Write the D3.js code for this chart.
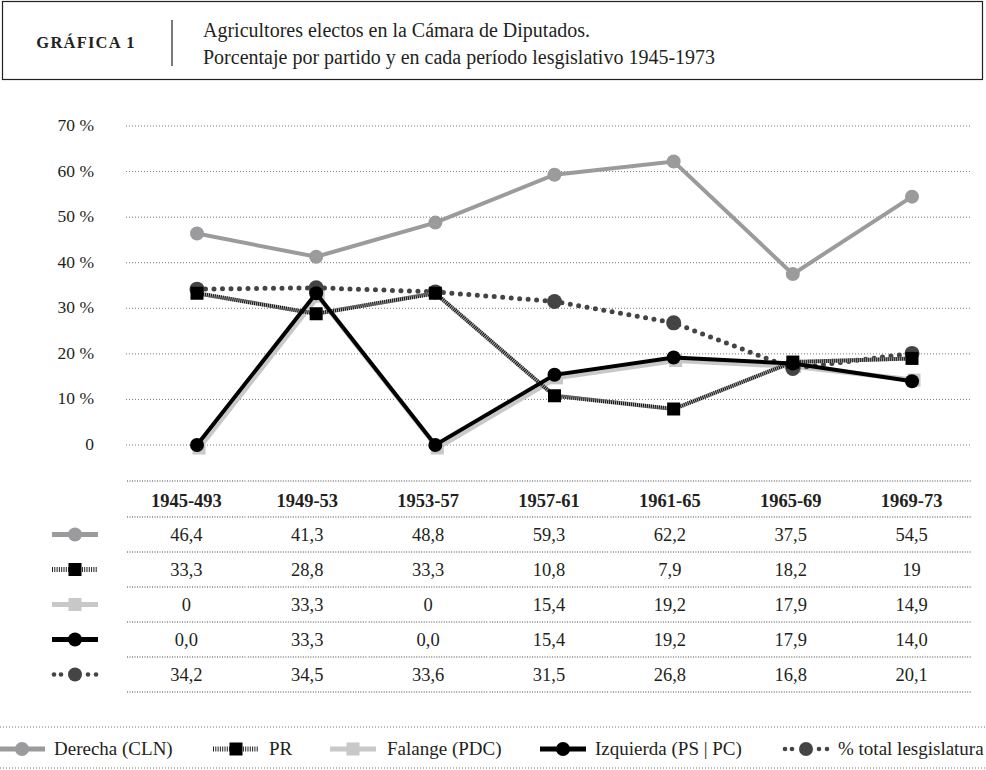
<!DOCTYPE html>
<html>
<head>
<meta charset="utf-8">
<script src="https://cdn.jsdelivr.net/npm/d3@7"></script>
<style>
  body { margin: 0; background: #fff; }
  svg text { font-family: "Liberation Serif", "DejaVu Serif", serif; fill: #231f20; }
</style>
</head>
<body>
<svg id="chart" width="986" height="770"></svg>
<script>
// periods and series (percent of farmers elected, per party)
var periods = ["1945-493", "1949-53", "1953-57", "1957-61", "1961-65", "1965-69", "1969-73"];
var derecha   = [46.4, 41.3, 48.8, 59.3, 62.2, 37.5, 54.5];
var pr        = [33.3, 28.8, 33.3, 10.8, 7.9, 18.2, 19];
var falange   = [0, 33.3, 0, 15.4, 19.2, 17.9, 14.9];
var izquierda = [0.0, 33.3, 0.0, 15.4, 19.2, 17.9, 14.0];
var total     = [34.2, 34.5, 33.6, 31.5, 26.8, 16.8, 20.1];
// table labels as printed
var derechaTxt   = ["46,4", "41,3", "48,8", "59,3", "62,2", "37,5", "54,5"];
var prTxt        = ["33,3", "28,8", "33,3", "10,8", "7,9", "18,2", "19"];
var falangeTxt   = ["0", "33,3", "0", "15,4", "19,2", "17,9", "14,9"];
var izquierdaTxt = ["0,0", "33,3", "0,0", "15,4", "19,2", "17,9", "14,0"];
var totalTxt     = ["34,2", "34,5", "33,6", "31,5", "26,8", "16,8", "20,1"];
var yTicks = [0, 10, 20, 30, 40, 50, 60, 70];
var legendNames = ["Derecha (CLN)", "PR", "Falange (PDC)", "Izquierda (PS | PC)", "% total lesgislatura"];

var svg = d3.select("#chart");

// ---- header ----
svg.append("rect").attr("x", 2.5).attr("y", 1.5).attr("width", 980).attr("height", 78)
  .attr("fill", "none").attr("stroke", "#231f20").attr("stroke-width", 1.2);
svg.append("text").attr("x", 86).attr("y", 48).attr("text-anchor", "middle")
  .style("font-weight", "bold").style("font-size", "16.5px").style("letter-spacing", "1.2px")
  .text("GRÁFICA 1");
svg.append("line").attr("x1", 172).attr("x2", 172).attr("y1", 20).attr("y2", 66)
  .attr("stroke", "#231f20").attr("stroke-width", 1.2);
svg.append("text").attr("x", 203).attr("y", 37).style("font-size", "20px")
  .text("Agricultores electos en la Cámara de Diputados.");
svg.append("text").attr("x", 203).attr("y", 64).style("font-size", "20px")
  .text("Porcentaje por partido y en cada período lesgislativo 1945-1973");

// ---- scales ----
var x = d3.scalePoint().domain(periods).range([197, 912]);
var y = d3.scaleLinear().domain([0, 70]).range([445, 126]);
var col = d3.scaleBand().domain(periods).range([126, 972]);

// grid
var grid = svg.append("g");
grid.selectAll("line").data(yTicks).enter().append("line")
  .attr("x1", 126).attr("x2", 972)
  .attr("y1", function(d){ return y(d); }).attr("y2", function(d){ return y(d); })
  .attr("stroke", "#777").attr("stroke-width", 1).attr("stroke-dasharray", "1,2");
grid.selectAll("text").data(yTicks).enter().append("text")
  .attr("x", 94).attr("y", function(d){ return y(d) + 5; })
  .attr("text-anchor", "end").style("font-size", "17.5px")
  .text(function(d){ return d === 0 ? "0" : d + " %"; });

var line = d3.line().x(function(d, i){ return x(periods[i]); }).y(function(d){ return y(d); });

function circles(g, vals, r, color) {
  g.selectAll("circle").data(vals).enter().append("circle")
    .attr("cx", function(d, i){ return x(periods[i]); })
    .attr("cy", function(d){ return y(d); })
    .attr("r", r).attr("fill", color);
}
function squares(g, vals, s, color) {
  g.selectAll("rect").data(vals).enter().append("rect")
    .attr("x", function(d, i){ return x(periods[i]) - s / 2; })
    .attr("y", function(d){ return y(d) - s / 2; })
    .attr("width", s).attr("height", s).attr("fill", color);
}

var plot = svg.append("g");

// Derecha
var gD = plot.append("g");
gD.append("path").attr("d", line(derecha)).attr("fill", "none").attr("stroke", "#9b9b9d").attr("stroke-width", 4);
circles(gD, derecha, 7, "#9b9b9d");

// Falange (drawn slightly offset under Izquierda)
var gF = plot.append("g").attr("transform", "translate(2,3)");
gF.append("path").attr("d", line(falange)).attr("fill", "none").attr("stroke", "#c8c8c8").attr("stroke-width", 5);
squares(gF, falange, 13, "#c8c8c8");

// total
var gT = plot.append("g");
gT.append("path").attr("d", line(total)).attr("fill", "none").attr("stroke", "#444")
  .attr("stroke-width", 5).attr("stroke-linecap", "round").attr("stroke-dasharray", "0,8.5");
circles(gT, total, 7.5, "#444");

// PR (hatched)
var gP = plot.append("g");
gP.append("path").attr("d", line(pr)).attr("fill", "none").attr("stroke", "#aaa").attr("stroke-width", 4);
gP.append("path").attr("d", line(pr)).attr("fill", "none").attr("stroke", "#111")
  .attr("stroke-width", 4).attr("stroke-dasharray", "1,1");
squares(gP, pr, 13, "#000");

// Izquierda
var gI = plot.append("g");
gI.append("path").attr("d", line(izquierda)).attr("fill", "none").attr("stroke", "#000").attr("stroke-width", 4);
circles(gI, izquierda, 7, "#000");

// ---- table ----
var rowTop = 481, headH = 36, rowH = 35;
var rows = [derechaTxt, prTxt, falangeTxt, izquierdaTxt, totalTxt];
var table = svg.append("g");
var lineYs = [rowTop, rowTop + headH];
rows.forEach(function(r, i){ lineYs.push(rowTop + headH + (i + 1) * rowH); });
lineYs.forEach(function(ly){
  table.append("g").selectAll("line").data(periods).enter().append("line")
    .attr("x1", function(d){ return col(d) + 1; }).attr("x2", function(d){ return col(d) + col.bandwidth() - 1; })
    .attr("y1", ly).attr("y2", ly)
    .attr("stroke", "#444").attr("stroke-width", 1).attr("stroke-dasharray", "1,1.5");
});
table.append("g").selectAll("text").data(periods).enter().append("text")
  .attr("x", function(d){ return col(d) + col.bandwidth() / 2; })
  .attr("y", rowTop + 26).attr("text-anchor", "middle")
  .style("font-size", "18.5px").style("font-weight", "bold")
  .text(function(d){ return d; });
rows.forEach(function(r, ri){
  table.append("g").selectAll("text").data(r).enter().append("text")
    .attr("x", function(d, i){ return col(periods[i]) + col.bandwidth() / 2; })
    .attr("y", rowTop + headH + ri * rowH + 24).attr("text-anchor", "middle")
    .style("font-size", "18.5px")
    .text(function(d){ return d; });
});

// legend icons
function icon(g, k, cx, cy) {
  var w = 23;
  if (k === 0) {
    g.append("line").attr("x1", cx - w).attr("x2", cx + w).attr("y1", cy).attr("y2", cy).attr("stroke", "#9b9b9d").attr("stroke-width", 5);
    g.append("circle").attr("cx", cx).attr("cy", cy).attr("r", 7).attr("fill", "#9b9b9d");
  } else if (k === 1) {
    g.append("line").attr("x1", cx - w).attr("x2", cx + w).attr("y1", cy).attr("y2", cy).attr("stroke", "#222").attr("stroke-width", 5).attr("stroke-dasharray", "1,1.3");
    g.append("rect").attr("x", cx - 6.5).attr("y", cy - 6.5).attr("width", 13).attr("height", 13).attr("fill", "#000");
  } else if (k === 2) {
    g.append("line").attr("x1", cx - w).attr("x2", cx + w).attr("y1", cy).attr("y2", cy).attr("stroke", "#c8c8c8").attr("stroke-width", 5);
    g.append("rect").attr("x", cx - 6.5).attr("y", cy - 6.5).attr("width", 13).attr("height", 13).attr("fill", "#c8c8c8");
  } else if (k === 3) {
    g.append("line").attr("x1", cx - w).attr("x2", cx + w).attr("y1", cy).attr("y2", cy).attr("stroke", "#000").attr("stroke-width", 5);
    g.append("circle").attr("cx", cx).attr("cy", cy).attr("r", 7).attr("fill", "#000");
  } else {
    [-21, -14, 13, 21].forEach(function(o){
      g.append("circle").attr("cx", cx + o).attr("cy", cy).attr("r", 2.3).attr("fill", "#444");
    });
    g.append("circle").attr("cx", cx).attr("cy", cy).attr("r", 7).attr("fill", "#444");
  }
}
rows.forEach(function(r, ri){
  icon(table, ri, 75, rowTop + headH + ri * rowH + rowH / 2);
});

// ---- bottom legend ----
var leg = svg.append("g");
[727, 768].forEach(function(ly){
  leg.append("line").attr("x1", 0).attr("x2", 986).attr("y1", ly).attr("y2", ly)
    .attr("stroke", "#777").attr("stroke-width", 1).attr("stroke-dasharray", "1,2");
});
var legIconX = [22, 236, 353, 563, 806];
var legTextX = [54, 269, 387, 595, 838];
legendNames.forEach(function(name, i){
  icon(leg, i, legIconX[i], 749);
  leg.append("text").attr("x", legTextX[i]).attr("y", 755).style("font-size", "19px").text(name);
});
</script>
</body>
</html>
